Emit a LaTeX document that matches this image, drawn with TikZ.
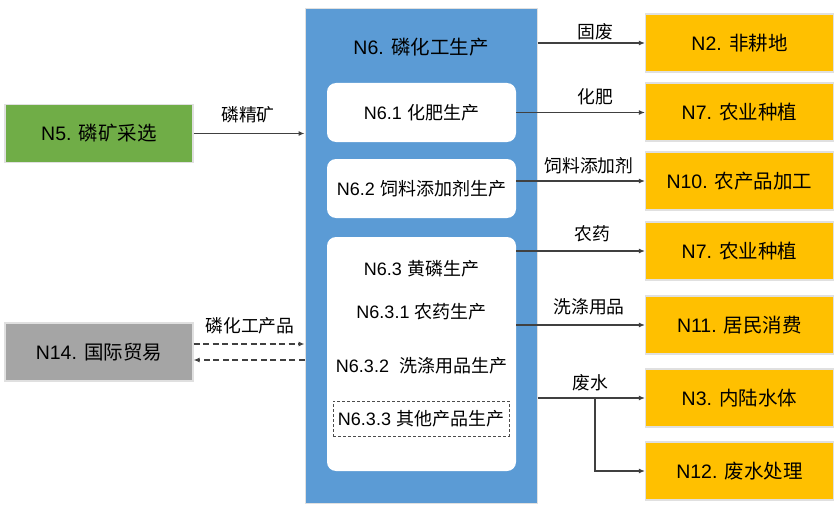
\documentclass[tikz,border=0pt]{standalone}
\usepackage{fontspec}
\setmainfont{Liberation Sans}
\newfontfamily\zhfont{Noto Sans CJK SC}
\usetikzlibrary{arrows.meta}
\newcommand{\zh}[1]{{\zhfont #1}}
\definecolor{cgreen}{HTML}{70AD47}
\definecolor{cgray}{HTML}{A5A5A5}
\definecolor{cgold}{HTML}{FFC000}
\definecolor{cblue}{HTML}{5B9BD5}
\definecolor{cline}{HTML}{404040}
\begin{document}
\begin{tikzpicture}[x=1pt,y=-1pt,
  bigtxt/.style={font=\fontsize{19.5}{23}\selectfont, text=black},
  midtxt/.style={font=\fontsize{18}{22}\selectfont, text=black},
  lab/.style={font=\fontsize{17.8}{20}\selectfont, text=black, inner sep=0pt},
  outbox/.style={draw=black!12, line width=1.2pt, minimum width=188pt, minimum height=58pt, inner sep=0pt, bigtxt},
  inbox/.style={fill=white, draw=none, rounded corners=9pt, minimum width=189pt, inner sep=0pt, midtxt},
  arr/.style={draw=cline, line width=1.1pt, -{Latex[length=6pt,width=5pt]}},
  darr/.style={arr, dash pattern=on 6pt off 3.5pt}
]
\useasboundingbox (0,0) rectangle (839,511);

% left nodes
\node[outbox, fill=cgreen] (n5) at (99,133.5) {N5. \zh{磷矿采选}};
\node[outbox, fill=cgray] (n14) at (99,352) {N14. \zh{国际贸易}};

% central block
\node[fill=cblue, draw=black!12, line width=1pt, minimum width=232pt, minimum height=494pt, inner sep=0pt] (n6) at (421,256) {};
\node[bigtxt] (n6t) at (421,47) {N6. \zh{磷化工生产}};
\node[inbox, minimum height=59pt] (n61) at (421.5,112.5) {N6.1 \zh{化肥生产}};
\node[inbox, minimum height=59pt] (n62) at (421.5,188.5) {N6.2 \zh{饲料添加剂生产}};
\node[inbox, minimum height=234pt] (n63) at (421.5,354) {};
\node[midtxt] (n63a) at (421.5,269) {N6.3 \zh{黄磷生产}};
\node[midtxt] (n63b) at (421.5,312) {N6.3.1 \zh{农药生产}};
\node[midtxt] (n63c) at (421.5,366) {N6.3.2\ \ \zh{洗涤用品生产}};
\node[midtxt, draw=black!70, dash pattern=on 3pt off 2pt, line width=0.7pt, minimum width=176pt, minimum height=35pt, inner sep=0pt] (n63d) at (421,418.5) {N6.3.3 \zh{其他产品生产}};

% right nodes
\node[outbox, fill=cgold] (n2) at (739.5,43) {N2. \zh{非耕地}};
\node[outbox, fill=cgold] (n7a) at (739.5,112) {N7. \zh{农业种植}};
\node[outbox, fill=cgold] (n10) at (739.5,181) {N10. \zh{农产品加工}};
\node[outbox, fill=cgold] (n7b) at (739.5,251) {N7. \zh{农业种植}};
\node[outbox, fill=cgold] (n11) at (739.5,325) {N11. \zh{居民消费}};
\node[outbox, fill=cgold] (n3) at (739.5,398) {N3. \zh{内陆水体}};
\node[outbox, fill=cgold] (n12) at (739.5,471) {N12. \zh{废水处理}};

% left connectors
\draw[arr] (n5.east) -- (n5.east -| n6.west);
\coordinate (d1) at ([yshift=8pt]n14.east);
\coordinate (d2) at ([yshift=-8pt]n14.east);
\draw[darr] (d1) -- (d1 -| n6.west);
\draw[darr] (d2 -| n6.west) -- (d2);
\node[lab] (l1) at (248,115) {\zh{磷精矿}};
\node[lab] (l2) at (250,326) {\zh{磷化工产品}};

% right connectors
\draw[arr] (n2.west -| n6.east) -- (n2.west);
\draw[arr] (n61.east) -- (n61.east -| n7a.west);
\draw[arr] (n10.west -| n62.east) -- (n10.west);
\draw[arr] (n7b.west -| n63.east) -- (n7b.west);
\draw[arr] (n11.west -| n63.east) -- (n11.west);
\draw[arr] (n3.west -| n6.east) -- (n3.west);
\coordinate (br) at (595,398);
\draw[arr] (br) |- (n12.west);

\node[lab] (r1) at (595,32) {\zh{固废}};
\node[lab] (r2) at (595,97) {\zh{化肥}};
\node[lab] (r3) at (589,166) {\zh{饲料添加剂}};
\node[lab] (r4) at (592,234) {\zh{农药}};
\node[lab] (r5) at (589,307) {\zh{洗涤用品}};
\node[lab] (r6) at (590,383) {\zh{废水}};
\end{tikzpicture}
\end{document}
